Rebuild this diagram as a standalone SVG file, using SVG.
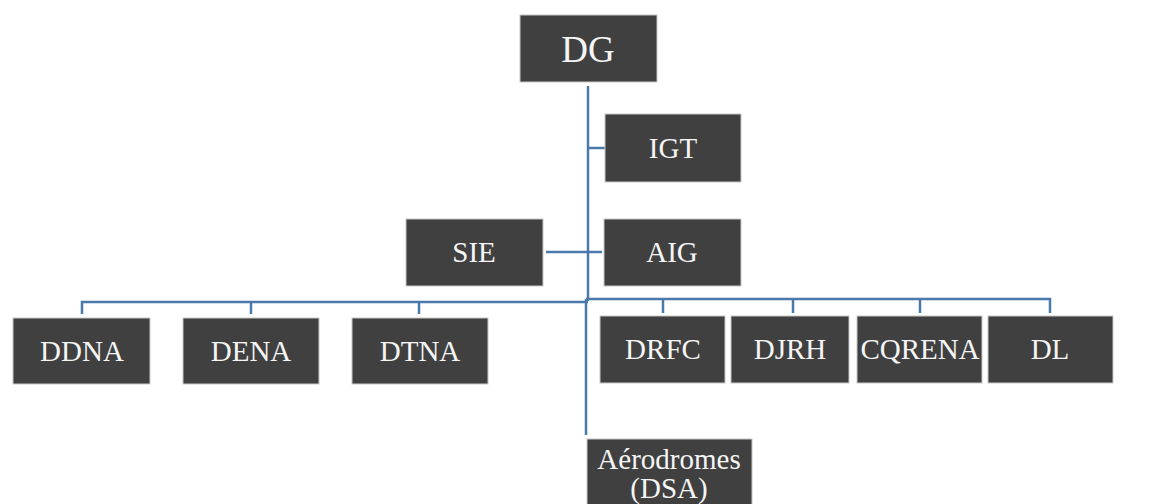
<svg xmlns="http://www.w3.org/2000/svg" width="1152" height="504" viewBox="0 0 1152 504">
<style>
.box{fill:#404040;stroke:#c8c8c8;stroke-width:1}
.t{font-family:"Liberation Serif","Times New Roman",serif;font-size:29px;fill:#f5f5f5;text-anchor:middle}
.big{font-size:37px}
.ln{fill:none;stroke:#4a7aab;stroke-width:2.5}
</style>
<rect width="1152" height="504" fill="#ffffff"/>
<g id="connectors">
<path class="ln" d="M588 86 V301"/>
<path class="ln" d="M586 299 V435"/>
<path class="ln" d="M588 148 H605"/>
<path class="ln" d="M546 252 H602"/>
<path class="ln" d="M82 314 V302 H588"/>
<path class="ln" d="M251 302 V314"/>
<path class="ln" d="M419 302 V314"/>
<path class="ln" d="M586 299 H1050 V313"/>
<path class="ln" d="M663 299 V313"/>
<path class="ln" d="M793 299 V313"/>
<path class="ln" d="M920 299 V313"/>
</g>
<g id="DG"><rect class="box" x="520" y="15" width="137" height="67"/><text class="t big" x="588" y="62">DG</text></g>
<g id="IGT"><rect class="box" x="605" y="114" width="136" height="68"/><text class="t" x="673" y="158">IGT</text></g>
<g id="SIE"><rect class="box" x="406" y="219" width="137" height="67"/><text class="t" x="474" y="262">SIE</text></g>
<g id="AIG"><rect class="box" x="604" y="219" width="137" height="67"/><text class="t" x="672" y="262">AIG</text></g>
<g id="DDNA"><rect class="box" x="13" y="318" width="137" height="66"/><text class="t" x="82" y="361">DDNA</text></g>
<g id="DENA"><rect class="box" x="183" y="318" width="136" height="66"/><text class="t" x="251" y="361">DENA</text></g>
<g id="DTNA"><rect class="box" x="352" y="318" width="136" height="66"/><text class="t" x="420" y="361">DTNA</text></g>
<g id="DRFC"><rect class="box" x="600" y="316" width="125" height="67"/><text class="t" x="663" y="359">DRFC</text></g>
<g id="DJRH"><rect class="box" x="731" y="316" width="118" height="67"/><text class="t" x="790" y="359">DJRH</text></g>
<g id="CQRENA"><rect class="box" x="857" y="316" width="125" height="67"/><text class="t" x="920" y="359">CQRENA</text></g>
<g id="DL"><rect class="box" x="988" y="316" width="125" height="67"/><text class="t" x="1050" y="359">DL</text></g>
<g id="DSA"><rect class="box" x="587" y="439" width="165" height="70"/><text class="t" x="669" y="469">Aérodromes</text><text class="t" x="669" y="498">(DSA)</text></g>
</svg>
